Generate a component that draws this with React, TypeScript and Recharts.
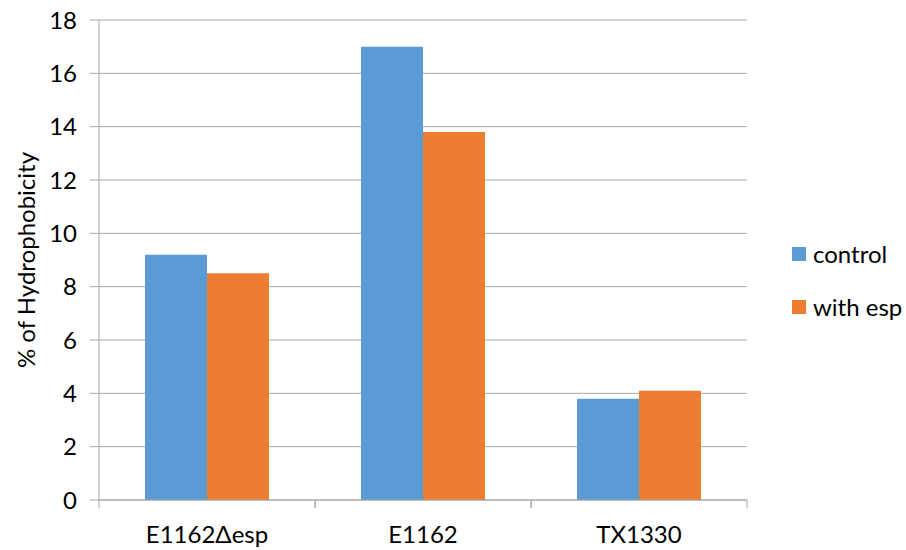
import React from 'react';
import { BarChart, Bar, XAxis, YAxis, CartesianGrid, Legend } from 'recharts';

const categories = ['E1162Δesp', 'E1162', 'TX1330'];
const controlValues = [9.2, 17.0, 3.8];
const withEspValues = [8.5, 13.8, 4.1];
const yTicks = [0, 2, 4, 6, 8, 10, 12, 14, 16, 18];

const data = categories.map((name, i) => ({
  name,
  control: controlValues[i],
  withEsp: withEspValues[i],
}));

const FONT = 'Lato, "Open Sans", sans-serif';
const FS = 24;
const GRID = '#a6a6a6';
const W = 906;
const H = 550;
const MARGIN = { top: 20, right: 159, bottom: 0, left: 0 };
const Y_WIDTH = 99;
const PLOT_W = W - MARGIN.left - MARGIN.right - Y_WIDTH;
const HALF_BAND = PLOT_W / categories.length / 2;

const XTick = (props: any) => {
  const { x, y, payload } = props;
  return (
    <g>
      <line x1={x - HALF_BAND} x2={x - HALF_BAND} y1={y - 8} y2={y} stroke={GRID} />
      <line x1={x + HALF_BAND} x2={x + HALF_BAND} y1={y - 8} y2={y} stroke={GRID} />
      <text x={x} y={y + 35} textAnchor="middle" fill="#000" fontSize={FS} fontFamily={FONT}>
        {payload.value}
      </text>
    </g>
  );
};

const renderLegend = (props: any) => {
  const { payload } = props;
  return (
    <div style={{ fontFamily: FONT, fontSize: FS, color: '#000', lineHeight: '24px' }}>
      {payload.map((item: any) => (
        <div key={item.value} style={{ display: 'flex', alignItems: 'center', height: 24, marginBottom: 29 }}>
          <span style={{ display: 'inline-block', width: 14, height: 14, background: item.color, marginRight: 7 }} />
          <span>{item.value}</span>
        </div>
      ))}
    </div>
  );
};

const YLabel = (props: any) => {
  const { viewBox } = props;
  const cy = viewBox.y + viewBox.height / 2;
  const cx = 25;
  return (
    <text
      x={cx}
      y={cy}
      transform={`rotate(-90, ${cx}, ${cy})`}
      textAnchor="middle"
      dominantBaseline="central"
      fill="#000"
      fontSize={FS}
      fontFamily={FONT}
    >
      % of Hydrophobicity
    </text>
  );
};

export default function App() {
  return (
    <div style={{ position: 'absolute', left: 0, top: 0, background: '#fff' }}>
      <BarChart width={W} height={H} data={data} margin={MARGIN} barGap={0} barSize={62}>
        <CartesianGrid vertical={false} stroke={GRID} strokeWidth={1} />
        <XAxis
          dataKey="name"
          axisLine={{ stroke: GRID }}
          tickLine={false}
          tickSize={8}
          tickMargin={0}
          height={50}
          tick={<XTick />}
          interval={0}
        />
        <YAxis
          domain={[0, 18]}
          ticks={yTicks}
          width={Y_WIDTH}
          axisLine={{ stroke: GRID }}
          tickLine={{ stroke: GRID }}
          tickSize={9}
          tickMargin={13}
          tick={{ fill: '#000', fontSize: FS, fontFamily: FONT }}
          label={<YLabel />}
          interval={0}
        />
        <Legend
          layout="vertical"
          align="center"
          verticalAlign="middle"
          wrapperStyle={{ left: 792, top: 242, width: 114 }}
          content={renderLegend}
        />
        <Bar dataKey="control" name="control" fill="#5b9bd5" isAnimationActive={false} />
        <Bar dataKey="withEsp" name="with esp" fill="#ed7d31" isAnimationActive={false} />
      </BarChart>
    </div>
  );
}
